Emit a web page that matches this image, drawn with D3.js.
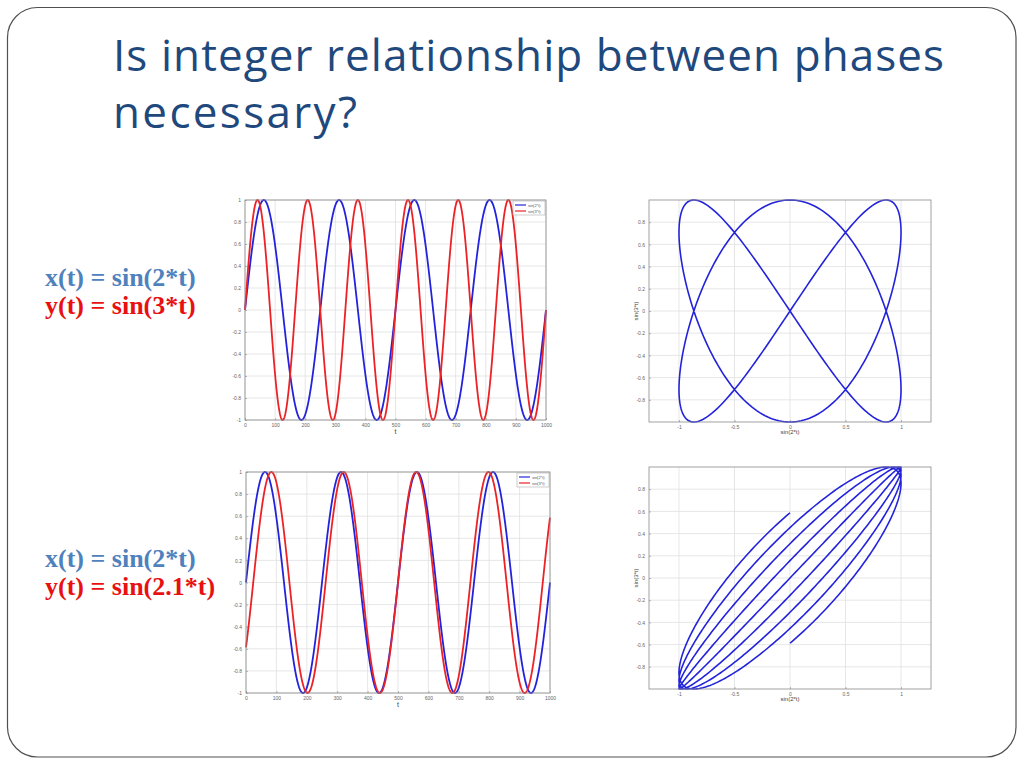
<!DOCTYPE html>
<html>
<head>
<meta charset="utf-8">
<script src="https://cdn.jsdelivr.net/npm/d3@7"></script>
<style>
  html, body { margin: 0; padding: 0; background: #fff; }
  svg { display: block; }
</style>
</head>
<body>
<svg id="slide" width="1024" height="768"></svg>
<script>
// ---------------- data ----------------
const titleLines = ["Is integer relationship between phases", "necessary?"];
const eqTop = ["x(t) = sin(2*t)", "y(t) = sin(3*t)"];
const eqBottom = ["x(t) = sin(2*t)", "y(t) = sin(2.1*t)"];
const freqTop = [2, 3];        // x(t) = sin(2t), y(t) = sin(3t)
const freqBottom = [2, 2.1];   // x(t) = sin(2t), y(t) = sin(2.1t)
const tStart = -2 * Math.PI;   // parameter range of the samples
const tEnd = 2 * Math.PI;
const sampleCount = 1001;      // sample index 0..1000 on the time axis
const legendLabels = ["sin(2*t)", "sin(3*t)"];
const timeXTicks = [0, 100, 200, 300, 400, 500, 600, 700, 800, 900, 1000];
const timeYTicks = [-1, -0.8, -0.6, -0.4, -0.2, 0, 0.2, 0.4, 0.6, 0.8, 1];
const lissXTicks = [-1, -0.5, 0, 0.5, 1];
const lissYTicks = [-0.8, -0.6, -0.4, -0.2, 0, 0.2, 0.4, 0.6, 0.8];
const lissXDomain = [-1.27, 1.27];
const lissYDomain = [-1, 1];
const axisLabels = { time: "t", lissX: "sin(2*t)", lissY: "sin(3*t)" };

// ---------------- styles ----------------
const BLUE = "#2323dc";
const RED = "#ec2226";
const GRID = "#e0e0e0";
const BOXC = "#8a8a8a";
const TICKC = "#666";

const svg = d3.select("#slide");

// slide frame
svg.append("rect")
  .attr("x", 7.5).attr("y", 7.5)
  .attr("width", 1008.5).attr("height", 749.5)
  .attr("rx", 30).attr("ry", 30)
  .attr("fill", "#fff").attr("stroke", "#505050").attr("stroke-width", 1.2);

// title
const titleWidths = [831, 244];
svg.append("g").selectAll("text").data(titleLines).join("text")
  .attr("x", 113)
  .attr("y", (d, i) => 71 + i * 57)
  .attr("font-family", "'Open Sans', sans-serif")
  .attr("font-size", 44)
  .attr("textLength", (d, i) => titleWidths[i])
  .attr("lengthAdjust", "spacing")
  .attr("fill", "#1f497d")
  .text(d => d);

// equations
function equations(lines, y0) {
  svg.append("g").selectAll("text").data(lines).join("text")
    .attr("x", 45)
    .attr("y", (d, i) => y0 + i * 28)
    .attr("font-family", "'Liberation Serif', 'Times New Roman', serif")
    .attr("font-weight", "bold")
    .attr("font-size", 26)
    .attr("fill", (d, i) => i === 0 ? "#4f81bd" : "#e81010")
    .text(d => d);
}
equations(eqTop, 286);
equations(eqBottom, 567);

const samples = d3.range(sampleCount);
const tOf = i => tStart + (tEnd - tStart) * i / (sampleCount - 1);
const fmt = v => String(v);

function frame(g, box, x, y, xt, yt) {
  // grid
  g.append("g").selectAll("line").data(xt).join("line")
    .attr("x1", d => x(d)).attr("x2", d => x(d))
    .attr("y1", box.top).attr("y2", box.bottom)
    .attr("stroke", GRID).attr("stroke-width", 0.8);
  g.append("g").selectAll("line").data(yt).join("line")
    .attr("y1", d => y(d)).attr("y2", d => y(d))
    .attr("x1", box.left).attr("x2", box.right)
    .attr("stroke", GRID).attr("stroke-width", 0.8);
  // axes via d3 axis generators
  const ax = g.append("g").attr("transform", `translate(0,${box.bottom})`)
    .call(d3.axisBottom(x).tickValues(xt).tickFormat(fmt).tickSizeInner(-2).tickSizeOuter(0).tickPadding(3));
  const ay = g.append("g").attr("transform", `translate(${box.left},0)`)
    .call(d3.axisLeft(y).tickValues(yt).tickFormat(fmt).tickSizeInner(-2).tickSizeOuter(0).tickPadding(4));
  [ax, ay].forEach(a => {
    a.select(".domain").remove();
    a.selectAll("line").attr("stroke", BOXC).attr("stroke-width", 0.6);
    a.selectAll("text").attr("font-size", 5).attr("fill", TICKC)
      .attr("font-family", "Arial, 'Liberation Sans', sans-serif");
  });
}

function boxBorder(g, box) {
  g.append("rect")
    .attr("x", box.left).attr("y", box.top)
    .attr("width", box.right - box.left).attr("height", box.bottom - box.top)
    .attr("fill", "none").attr("stroke", BOXC).attr("stroke-width", 0.8);
}

function drawTime(box, freqs) {
  const g = svg.append("g");
  const x = d3.scaleLinear().domain([0, sampleCount - 1]).range([box.left, box.right]);
  const y = d3.scaleLinear().domain([-1, 1]).range([box.bottom, box.top]);
  frame(g, box, x, y, timeXTicks, timeYTicks);
  const colors = [BLUE, RED];
  [0, 1].forEach(k => {
    const line = d3.line().x(i => x(i)).y(i => y(Math.sin(freqs[k] * tOf(i))));
    g.append("path").datum(samples).attr("d", line)
      .attr("fill", "none").attr("stroke", colors[k]).attr("stroke-width", 1.8);
  });
  boxBorder(g, box);
  g.append("text").attr("x", (box.left + box.right) / 2).attr("y", box.bottom + 14)
    .attr("text-anchor", "middle").attr("font-size", 7).attr("fill", "#444")
    .attr("font-family", "Arial, 'Liberation Sans', sans-serif").text(axisLabels.time);
  // legend
  const lw = 32, lh = 14;
  const lx = box.right - lw - 1, ly = box.top + 1;
  const lg = g.append("g");
  lg.append("rect").attr("x", lx).attr("y", ly).attr("width", lw).attr("height", lh)
    .attr("fill", "#fff").attr("stroke", "#aaa").attr("stroke-width", 0.6);
  legendLabels.forEach((lab, k) => {
    const yy = ly + 4 + k * 6;
    lg.append("line").attr("x1", lx + 2).attr("x2", lx + 13).attr("y1", yy).attr("y2", yy)
      .attr("stroke", colors[k]).attr("stroke-width", 1.2);
    lg.append("text").attr("x", lx + 15).attr("y", yy + 1.5).attr("font-size", 4)
      .attr("fill", "#555").attr("font-family", "Arial, 'Liberation Sans', sans-serif").text(lab);
  });
}

function drawLiss(box, freqs) {
  const g = svg.append("g");
  const x = d3.scaleLinear().domain(lissXDomain).range([box.left, box.right]);
  const y = d3.scaleLinear().domain(lissYDomain).range([box.bottom, box.top]);
  frame(g, box, x, y, lissXTicks, lissYTicks);
  const line = d3.line()
    .x(i => x(Math.sin(freqs[0] * tOf(i))))
    .y(i => y(Math.sin(freqs[1] * tOf(i))));
  g.append("path").datum(samples).attr("d", line)
    .attr("fill", "none").attr("stroke", BLUE).attr("stroke-width", 1.6)
    .attr("stroke-linejoin", "round");
  boxBorder(g, box);
  g.append("text").attr("x", x(0)).attr("y", box.bottom + 12)
    .attr("text-anchor", "middle").attr("font-size", 6).attr("fill", "#444")
    .attr("font-family", "Arial, 'Liberation Sans', sans-serif").text(axisLabels.lissX);
  g.append("text")
    .attr("transform", `translate(${box.left - 11},${y(0)}) rotate(-90)`)
    .attr("text-anchor", "middle").attr("font-size", 6).attr("fill", "#444")
    .attr("font-family", "Arial, 'Liberation Sans', sans-serif").text(axisLabels.lissY);
}

drawTime({ left: 245, right: 546, top: 200, bottom: 420 }, freqTop);
drawLiss({ left: 649, right: 931, top: 200, bottom: 422 }, freqTop);
drawTime({ left: 246, right: 550, top: 472, bottom: 693 }, freqBottom);
drawLiss({ left: 649, right: 931, top: 467, bottom: 689 }, freqBottom);
</script>
</body>
</html>
